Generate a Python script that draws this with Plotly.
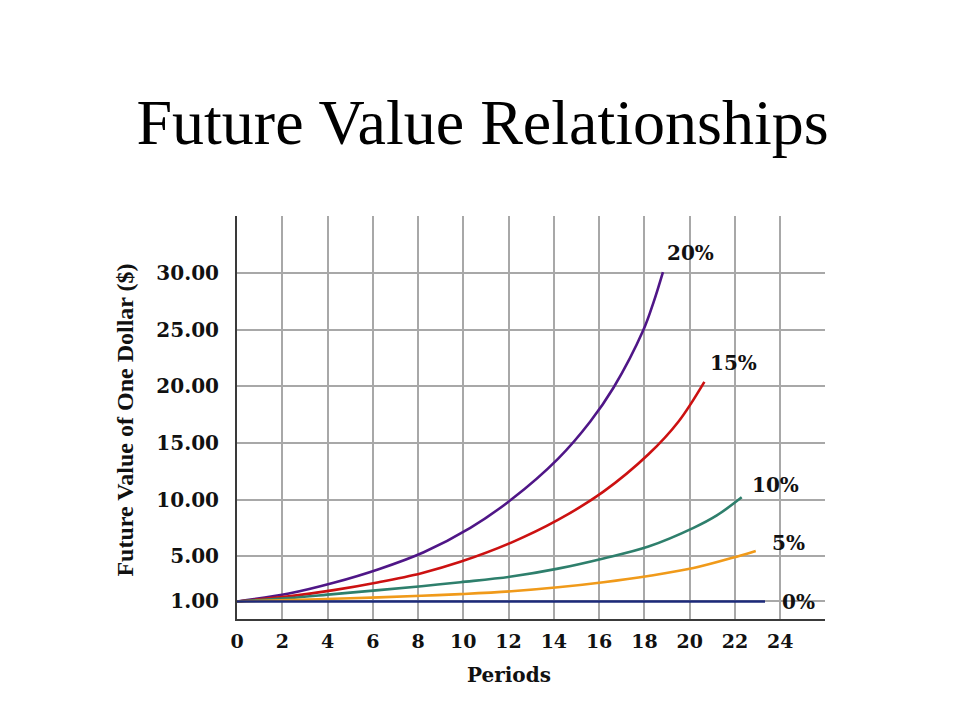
import plotly.graph_objects as go

# ---- data ----
rate_labels = ["20%", "15%", "10%", "5%", "0%"]

periods_20 = [0, 2.29, 4.27, 6.26, 8.25, 10.31, 12.12, 14.18, 15.61, 16.64, 17.96, 18.4, 18.82]
values_20 = [1.0, 1.7, 2.65, 3.85, 5.35, 7.5, 10.0, 13.6, 16.9, 19.9, 25.0, 27.4, 30.1]

periods_15 = [0, 2.29, 4.27, 6.26, 8.15, 9.87, 12.12, 14.18, 16.19, 18.18, 19.51, 20.65]
values_15 = [1.0, 1.45, 2.0, 2.7, 3.5, 4.5, 6.2, 8.2, 10.7, 14.0, 16.9, 20.4]

periods_10 = [0, 2.29, 4.27, 6.26, 8.15, 9.87, 12.12, 14.18, 16.19, 18.18, 20.17, 21.2, 22.3]
values_10 = [1.0, 1.3, 1.65, 2.0, 2.35, 2.7, 3.2, 3.9, 4.8, 5.85, 7.5, 8.6, 10.2]

periods_5 = [0, 2.29, 4.27, 6.26, 8.15, 9.87, 12.12, 14.18, 16.19, 18.18, 20.17, 22.08, 22.92]
values_5 = [1.0, 1.12, 1.24, 1.36, 1.5, 1.65, 1.9, 2.25, 2.7, 3.25, 3.95, 4.96, 5.46]

periods_0 = [0, 23.33]
values_0 = [1.0, 1.0]

x_ticks = [0, 2, 4, 6, 8, 10, 12, 14, 16, 18, 20, 22, 24]
y_ticks = [1, 5, 10, 15, 20, 25, 30]
y_tick_text = ["1.00", "5.00", "10.00", "15.00", "20.00", "25.00", "30.00"]

# label anchor positions (data coords) for the rate labels
label_x = [20.02, 21.92, 23.78, 24.35, 24.79]
label_y = [31.8, 22.1, 11.29, 6.17, 0.98]

colors = ["#4f1687", "#cc1111", "#2e7f6c", "#f09a1a", "#1c2a7a"]

series = [
    (periods_20, values_20),
    (periods_15, values_15),
    (periods_10, values_10),
    (periods_5, values_5),
    (periods_0, values_0),
]

fig = go.Figure()
for (xs, ys), c, name in zip(series, colors, rate_labels):
    fig.add_trace(go.Scatter(
        x=xs, y=ys, mode="lines", name=name,
        line=dict(color=c, width=2.6, shape="spline", smoothing=1.0),
        showlegend=False, hoverinfo="skip",
    ))

for lx, ly, txt in zip(label_x, label_y, rate_labels):
    fig.add_annotation(
        x=lx, y=ly, xref="x", yref="y", text=txt, showarrow=False,
        font=dict(family="DejaVu Serif", size=20, color="#111111", weight="bold"),
        xanchor="center", yanchor="middle",
    )

# axis titles as annotations
fig.add_annotation(
    x=0.463, y=-0.139, xref="paper", yref="paper", text="Periods", showarrow=False,
    font=dict(family="DejaVu Serif", size=20, color="#111111", weight="bold"),
    xanchor="center", yanchor="middle",
)
fig.add_annotation(
    x=-0.191, y=0.494, xref="paper", yref="paper", text="Future Value of One Dollar ($)",
    showarrow=False, textangle=-90,
    font=dict(family="Liberation Serif", size=24, color="#111111", weight="bold"),
    xanchor="center", yanchor="middle",
)

fig.update_layout(
    width=960, height=720,
    paper_bgcolor="white", plot_bgcolor="white",
    margin=dict(l=228.5, r=143, t=208, b=109),
    title=dict(
        text="Future Value Relationships",
        font=dict(family="Liberation Serif", size=64, color="#000000"),
        x=0.4943, xanchor="center", y=1 - 114 / 720, yanchor="middle", yref="container",
    ),
    xaxis=dict(
        range=[0, 25.98], tickvals=x_ticks, ticktext=[str(v) for v in x_ticks],
        showgrid=True, gridcolor="#a8a8a8", gridwidth=2,
        showline=True, linecolor="#3a3a3a", linewidth=2,
        zeroline=False, ticks="", ticklabelstandoff=4,
        tickfont=dict(family="DejaVu Serif", size=19, color="#111111", weight="bold"),
    ),
    yaxis=dict(
        range=[-0.55, 35.05], tickvals=y_ticks, ticktext=y_tick_text,
        showgrid=True, gridcolor="#a8a8a8", gridwidth=2,
        showline=True, linecolor="#3a3a3a", linewidth=2,
        zeroline=False, ticks="", ticklabelstandoff=12,
        tickfont=dict(family="DejaVu Serif", size=20, color="#111111", weight="bold"),
    ),
)

fig.write_html("out.html")
